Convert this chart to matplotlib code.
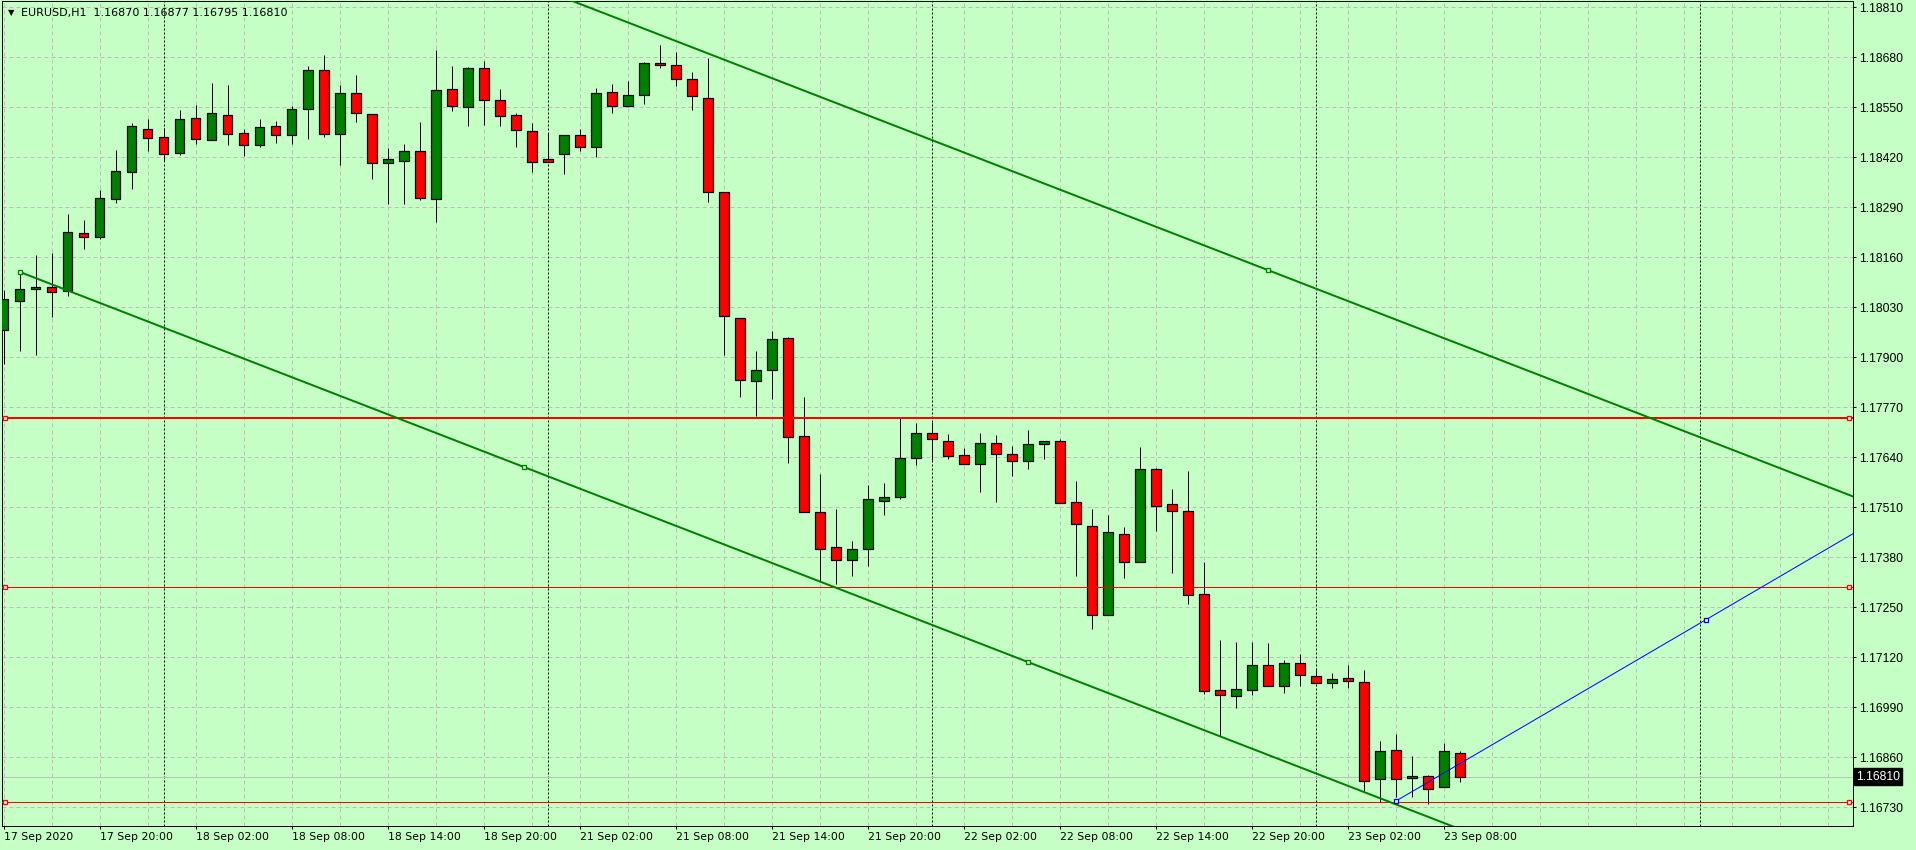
import matplotlib
matplotlib.use("Agg")
import matplotlib.pyplot as plt
from matplotlib.transforms import blended_transform_factory

# ---------------- data ----------------
title_text = "EURUSD,H1  1.16870 1.16877 1.16795 1.16810"

opens = [1.17971, 1.18047, 1.18077, 1.18084, 1.18073, 1.18222, 1.18214, 1.18312, 1.18383, 1.18493,
         1.18472, 1.18432, 1.18521, 1.18464, 1.18529, 1.18482, 1.18453, 1.18501, 1.18479, 1.18546,
         1.18646, 1.18481, 1.18586, 1.18532, 1.18406, 1.18411, 1.18436, 1.18312, 1.18597, 1.18552,
         1.18651, 1.18568, 1.18529, 1.18488, 1.18416, 1.18428, 1.18477, 1.18448, 1.18589, 1.18554,
         1.18581, 1.18664, 1.18659, 1.18623, 1.18573, 1.18329, 1.18001, 1.17838, 1.17866, 1.17949,
         1.17695, 1.17497, 1.17406, 1.17372, 1.17401, 1.17526, 1.17536, 1.17637, 1.17702, 1.17682,
         1.17645, 1.17622, 1.17676, 1.17648, 1.17630, 1.17674, 1.17682, 1.17523, 1.17461, 1.17229,
         1.17440, 1.17367, 1.17609, 1.17518, 1.17500, 1.17284, 1.17035, 1.17019, 1.17034, 1.17099,
         1.17045, 1.17104, 1.17071, 1.17052, 1.17065, 1.17055, 1.16803, 1.16878, 1.16805, 1.16811,
         1.16782, 1.16870]
highs = [1.18075, 1.18122, 1.18166, 1.18170, 1.18273, 1.18257, 1.18335, 1.18439, 1.18508, 1.18520,
         1.18495, 1.18543, 1.18556, 1.18612, 1.18608, 1.18494, 1.18520, 1.18514, 1.18553, 1.18657,
         1.18686, 1.18608, 1.18634, 1.18532, 1.18443, 1.18454, 1.18511, 1.18699, 1.18657, 1.18655,
         1.18670, 1.18598, 1.18534, 1.18508, 1.18484, 1.18477, 1.18494, 1.18599, 1.18611, 1.18618,
         1.18667, 1.18712, 1.18694, 1.18641, 1.18677, 1.18329, 1.18001, 1.17916, 1.17968, 1.17954,
         1.17797, 1.17596, 1.17506, 1.17422, 1.17567, 1.17572, 1.17741, 1.17728, 1.17731, 1.17700,
         1.17663, 1.17702, 1.17697, 1.17669, 1.17710, 1.17683, 1.17687, 1.17578, 1.17505, 1.17489,
         1.17458, 1.17666, 1.17612, 1.17558, 1.17604, 1.17369, 1.17165, 1.17160, 1.17160, 1.17157,
         1.17112, 1.17128, 1.17091, 1.17078, 1.17099, 1.17086, 1.16902, 1.16920, 1.16863, 1.16813,
         1.16896, 1.16877]
lows = [1.17883, 1.17916, 1.17906, 1.18006, 1.18059, 1.18182, 1.18208, 1.18302, 1.18338, 1.18436,
        1.18411, 1.18426, 1.18455, 1.18464, 1.18453, 1.18423, 1.18448, 1.18458, 1.18455, 1.18468,
        1.18474, 1.18400, 1.18513, 1.18364, 1.18299, 1.18299, 1.18309, 1.18252, 1.18541, 1.18501,
        1.18504, 1.18501, 1.18448, 1.18383, 1.18408, 1.18376, 1.18437, 1.18422, 1.18536, 1.18554,
        1.18559, 1.18651, 1.18606, 1.18542, 1.18305, 1.17907, 1.17798, 1.17748, 1.17792, 1.17626,
        1.17497, 1.17317, 1.17311, 1.17332, 1.17358, 1.17491, 1.17531, 1.17619, 1.17632, 1.17635,
        1.17622, 1.17551, 1.17525, 1.17592, 1.17610, 1.17635, 1.17520, 1.17332, 1.17194, 1.17229,
        1.17327, 1.17367, 1.17449, 1.17340, 1.17259, 1.17025, 1.16915, 1.16989, 1.17021, 1.17045,
        1.17026, 1.17045, 1.17052, 1.17039, 1.17039, 1.16772, 1.16745, 1.16758, 1.16758, 1.16739,
        1.16782, 1.16795]
closes = [1.18051, 1.18077, 1.18084, 1.18071, 1.18225, 1.18214, 1.18313, 1.18384, 1.18501, 1.18471,
          1.18429, 1.18519, 1.18467, 1.18534, 1.18481, 1.18453, 1.18498, 1.18479, 1.18545, 1.18646,
          1.18481, 1.18586, 1.18534, 1.18406, 1.18415, 1.18436, 1.18315, 1.18594, 1.18554, 1.18651,
          1.18568, 1.18527, 1.18490, 1.18409, 1.18409, 1.18477, 1.18448, 1.18586, 1.18554, 1.18581,
          1.18664, 1.18659, 1.18623, 1.18579, 1.18329, 1.18007, 1.17840, 1.17866, 1.17947, 1.17692,
          1.17497, 1.17401, 1.17372, 1.17401, 1.17531, 1.17536, 1.17637, 1.17702, 1.17687, 1.17643,
          1.17622, 1.17676, 1.17648, 1.17630, 1.17674, 1.17682, 1.17520, 1.17466, 1.17229, 1.17445,
          1.17367, 1.17609, 1.17513, 1.17500, 1.17281, 1.17032, 1.17021, 1.17037, 1.17099, 1.17045,
          1.17104, 1.17073, 1.17052, 1.17063, 1.17058, 1.16798, 1.16876, 1.16803, 1.16811, 1.16778,
          1.16876, 1.16810]

x_tick_bars = [0, 6, 12, 18, 24, 30, 36, 42, 48, 54, 60, 66, 72, 78, 84, 90]
x_tick_labels = ["17 Sep 2020", "17 Sep 20:00", "18 Sep 02:00", "18 Sep 08:00", "18 Sep 14:00",
                 "18 Sep 20:00", "21 Sep 02:00", "21 Sep 08:00", "21 Sep 14:00", "21 Sep 20:00",
                 "22 Sep 02:00", "22 Sep 08:00", "22 Sep 14:00", "22 Sep 20:00", "23 Sep 02:00",
                 "23 Sep 08:00"]
price_ticks = [1.16730, 1.16860, 1.16990, 1.17120, 1.17250, 1.17380, 1.17510, 1.17640, 1.17770,
               1.17900, 1.18030, 1.18160, 1.18290, 1.18420, 1.18550, 1.18680, 1.18810]
day_separator_bars = [10, 34, 58, 82, 106]
red_levels = [1.17743, 1.17302, 1.16743]
red_widths = [2, 1, 1]
channel_p1 = (1, 1.18122)
channel_p2 = (64, 1.17108)
channel_p3 = (79, 1.18127)
blue_p1 = (87, 1.16746)
blue_p2 = (106.4, 1.17218)
bid_price = 1.16810

# ---------------- style ----------------
BG = "#c6ffc6"
BULL = "#008000"
BEAR = "#ff0000"
GRID = "#bcbcbc"
PX = 0.72  # points per pixel at dpi 100
plt.rcParams["lines.scale_dashes"] = False
plt.rcParams["font.family"] = ["DejaVu Sans"]

W, H = 1916, 850
fig = plt.figure(figsize=(W / 100, H / 100), dpi=100, facecolor=BG)
left, right, top, bottom = 2, 1853, 1, 826
ax = fig.add_axes([left / W, 1 - bottom / H, (right - left) / W, (bottom - top) / H])
ax.set_facecolor(BG)

xmin, xmax = -0.106, 115.58
ymin, ymax = 1.166814, 1.188264
ax.set_xlim(xmin, xmax)
ax.set_ylim(ymin, ymax)

# grid
for p in price_ticks:
    ax.axhline(p, color=GRID, lw=PX, ls=(0, (4 * PX, 3 * PX)), zorder=0.5)
for b in range(0, 116, 3):
    ax.axvline(b, color=GRID, lw=PX, ls=(0, (4 * PX, 3 * PX)), zorder=0.5)
for b in day_separator_bars:
    ax.axvline(b, color="black", lw=PX, ls=(0, (2 * PX, 2 * PX)), zorder=0.6)

# candles
n = len(opens)
xs = list(range(n))
ax.vlines(xs, lows, highs, color="black", lw=1.0 * PX, zorder=2)
bottoms = [min(o, c) for o, c in zip(opens, closes)]
heights = [max(abs(c - o), 0.00002) for o, c in zip(opens, closes)]
colors = [BULL if c >= o else BEAR for o, c in zip(opens, closes)]
ax.bar(xs, heights, bottom=bottoms, width=0.6, color=colors, edgecolor="black",
       linewidth=1.2 * PX, zorder=3)

# bid line
ax.axhline(bid_price, color="#c0c0c0", lw=PX, zorder=1)

# red horizontal levels with end squares
for lvl, w in zip(red_levels, red_widths):
    ax.axhline(lvl, color=BEAR, lw=w * PX, zorder=4)
    ax.plot([0.1, 115.3], [lvl, lvl], ls="none", marker="s", ms=5 * PX, mfc="white",
            mec=BEAR, mew=1.3 * PX, zorder=5)

# equidistant channel
slope = (channel_p2[1] - channel_p1[1]) / (channel_p2[0] - channel_p1[0])
def lower(x):
    return channel_p1[1] + slope * (x - channel_p1[0])
offset = channel_p3[1] - lower(channel_p3[0])
ax.plot([channel_p1[0], xmax], [lower(channel_p1[0]), lower(xmax)], color=BULL, lw=2 * PX, zorder=4)
ax.plot([channel_p1[0], xmax], [lower(channel_p1[0]) + offset, lower(xmax) + offset],
        color=BULL, lw=2 * PX, zorder=4)
mid_x = (channel_p1[0] + channel_p2[0]) / 2
ax.plot([channel_p1[0], mid_x, channel_p2[0], channel_p3[0]],
        [channel_p1[1], lower(mid_x), channel_p2[1], channel_p3[1]],
        ls="none", marker="s", ms=5 * PX, mfc=BG, mec=BULL, mew=1.3 * PX, zorder=5)

# blue trend line
bslope = (blue_p2[1] - blue_p1[1]) / (blue_p2[0] - blue_p1[0])
ax.plot([blue_p1[0], xmax], [blue_p1[1], blue_p1[1] + bslope * (xmax - blue_p1[0])],
        color="#0000ff", lw=1 * PX, zorder=4)
ax.plot([blue_p1[0], blue_p2[0]], [blue_p1[1], blue_p2[1]], ls="none", marker="s",
        ms=5 * PX, mfc="white", mec="#0000ff", mew=1.3 * PX, zorder=5)

# axes / ticks
for s in ax.spines.values():
    s.set_color("black")
    s.set_linewidth(PX)
ax.yaxis.tick_right()
ax.set_yticks(price_ticks)
ax.set_yticklabels([f"{p:.5f}" for p in price_ticks], family=["Liberation Sans", "DejaVu Sans"])
ax.tick_params(axis="y", direction="out", length=3 * PX, width=PX, pad=2.2, labelsize=8.7,
               colors="black")
ax.set_xticks(x_tick_bars)
ax.set_xticklabels(x_tick_labels)
ax.tick_params(axis="x", direction="out", length=3 * PX, width=PX, pad=2.5, labelsize=7.8,
               colors="black")
for lab in ax.get_xticklabels():
    lab.set_horizontalalignment("left")

# current price label on the right axis
tr = blended_transform_factory(ax.transAxes, ax.transData)
ax.text(1.0015, bid_price, f"{bid_price:.5f}", transform=tr, ha="left", va="center",
        fontsize=8.7, family=["Liberation Sans", "DejaVu Sans"], color="white", zorder=10,
        clip_on=False, bbox=dict(boxstyle="square,pad=0.18", fc="black", ec="black"))

# title with small triangle
fig.text(21 / W, 1 - 13 / H, title_text, ha="left", va="center", fontsize=8, color="black")
fig.text(11 / W, 1 - 12.5 / H, "\u25BC", ha="center", va="center", fontsize=6, color="black")

fig.savefig("out.png", dpi=100, facecolor=BG)
